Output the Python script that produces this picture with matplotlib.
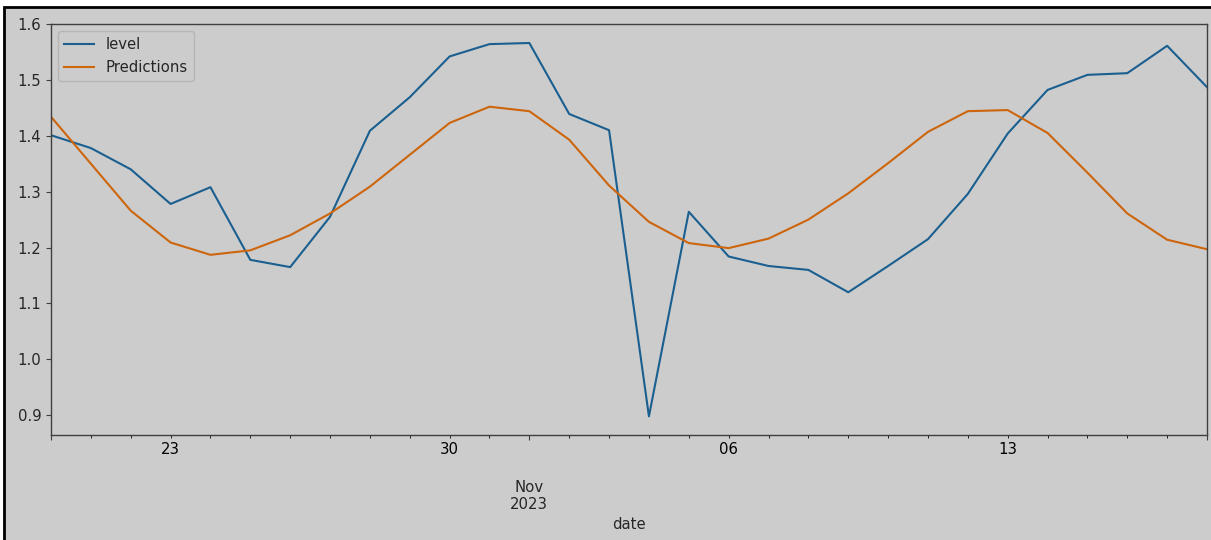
import numpy as np
import pandas as pd
import matplotlib
matplotlib.use("Agg")
from matplotlib import pyplot as plt
from matplotlib.patches import Rectangle

dates = pd.date_range("2023-10-20", "2023-11-18", freq="D")

level = [1.401, 1.378, 1.340, 1.278, 1.308, 1.178, 1.165, 1.255, 1.409, 1.469,
         1.542, 1.564, 1.566, 1.439, 1.410, 0.898, 1.264, 1.184, 1.167, 1.160,
         1.120, 1.167, 1.215, 1.296, 1.404, 1.482, 1.509, 1.512, 1.561, 1.487]

predictions = [1.434, 1.350, 1.266, 1.209, 1.187, 1.195, 1.222, 1.261, 1.309, 1.366,
               1.423, 1.452, 1.444, 1.393, 1.311, 1.246, 1.208, 1.199, 1.216, 1.250,
               1.297, 1.351, 1.407, 1.444, 1.446, 1.405, 1.334, 1.261, 1.214, 1.197]

df = pd.DataFrame({"level": level, "Predictions": predictions}, index=dates)
df.index.name = "date"

plt.rcParams["font.size"] = 10.7

bg = "#cccccc"
fig = plt.figure(figsize=(12.11, 5.40), dpi=100, facecolor="white")
# dimmed screenshot frame
fig.patches.append(Rectangle((4 / 1211, -0.1), 1.2, 1 - 7 / 540 + 0.1,
                             transform=fig.transFigure, facecolor=bg,
                             edgecolor="black", linewidth=2, zorder=-10))

ax = fig.add_axes([51 / 1211, 1 - 435 / 540, (1207 - 51) / 1211, (435 - 24) / 540])
ax.set_facecolor(bg)
df.plot(ax=ax, color=["#1a5f90", "#cc650c"], linewidth=1.5)
lo, hi = ax.get_ylim()
ax.set_ylim(lo, 1.6)

for s in ax.spines.values():
    s.set_color("#404040")
    s.set_linewidth(1.0)
ax.tick_params(colors="#404040", labelcolor="#262626")
ax.xaxis.label.set_color("#262626")
leg = ax.legend(loc="upper left", facecolor=bg, edgecolor="#b0b0b0")
for t in leg.get_texts():
    t.set_color("#262626")

fig.savefig("out.png", dpi=100, facecolor=fig.get_facecolor())
